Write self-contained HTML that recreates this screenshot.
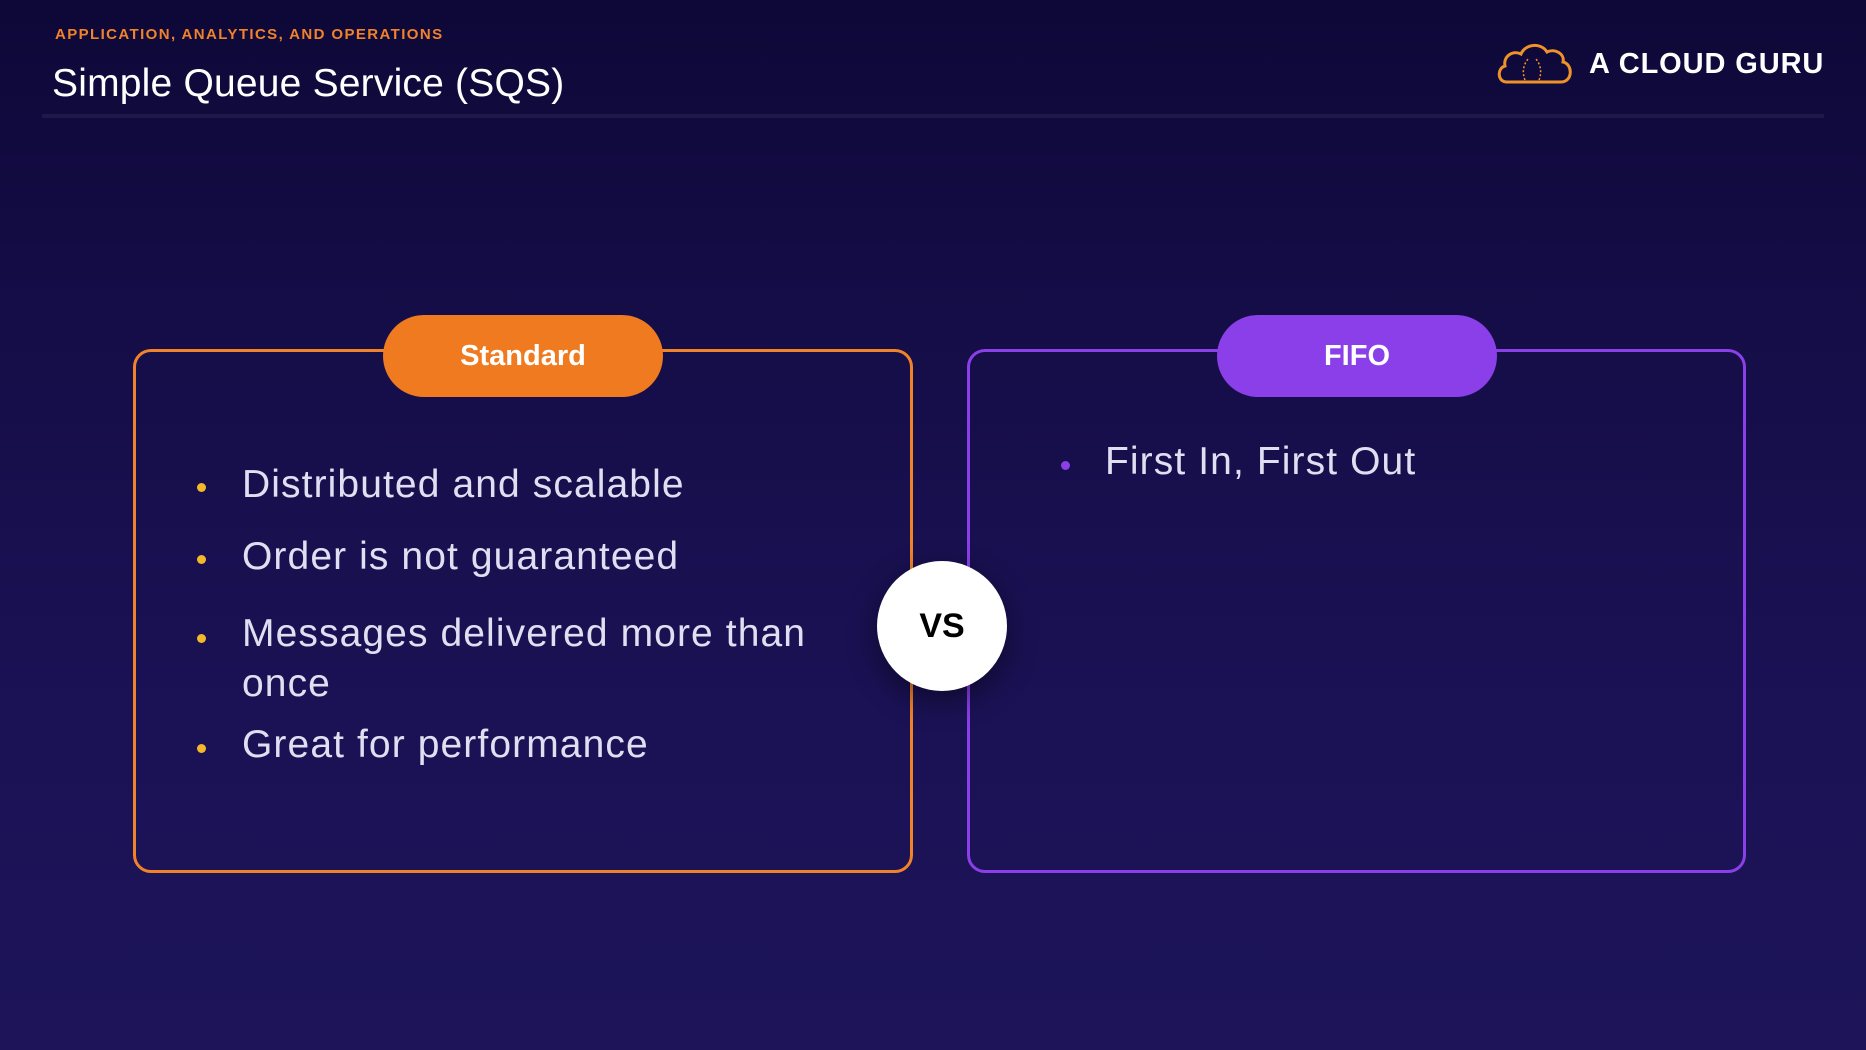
<!DOCTYPE html>
<html><head><meta charset="utf-8"><style>
*{margin:0;padding:0;box-sizing:border-box}
body{width:1866px;height:1050px;overflow:hidden;position:relative;font-family:"Liberation Sans",sans-serif;background:linear-gradient(180deg,#0e0838 0%,#150d47 30%,#1b1256 70%,#1d1459 100%)}
.a{position:absolute}
.sub{left:55px;top:26px;font-size:15px;font-weight:bold;color:#f0822a;letter-spacing:1.4px}
.title{left:52px;top:62px;font-size:39px;color:#fff;letter-spacing:0.2px}
.line{left:42px;top:114px;width:1782px;height:4px;background:#1f1849}
.logo{left:1589px;top:48px;font-size:29px;font-weight:bold;color:#fff;letter-spacing:0.9px}
.box{border-radius:18px;border:3px solid}
.pill{border-radius:41px;color:#fff;font-weight:bold;font-size:29px;text-align:center;line-height:82px}
.li{font-size:39px;color:#e2def2;left:242px;line-height:50px;letter-spacing:1.1px}
.dot{width:9px;height:9px;border-radius:50%;background:#f5b82a}
</style></head><body>
<div class="a sub">APPLICATION, ANALYTICS, AND OPERATIONS</div>
<div class="a title">Simple Queue Service (SQS)</div>
<div class="a line"></div>
<svg class="a" style="left:1495px;top:40px" width="80" height="46" viewBox="0 0 80 46">
<path d="M12 42 C2 42 2 28 10 26 C8 16 18 10 26 14 C30 4 46 2 52 12 C60 8 70 14 68 22 C78 24 78 42 66 42 Z" fill="none" stroke="#f0922a" stroke-width="3"/>
<path d="M30 40 C26 30 30 22 34 18 M44 40 C48 30 44 22 40 18" fill="none" stroke="#f0922a" stroke-width="1.5" stroke-dasharray="2 2"/>
</svg>
<div class="a logo">A CLOUD GURU</div>

<div class="a box" style="left:133px;top:349px;width:780px;height:524px;border-color:#f0822a"></div>
<div class="a pill" style="left:383px;top:315px;width:280px;height:82px;background:#ef7a1f">Standard</div>
<div class="a box" style="left:967px;top:349px;width:779px;height:524px;border-color:#8a3fe8"></div>
<div class="a pill" style="left:1217px;top:315px;width:280px;height:82px;background:#8a3fe8">FIFO</div>

<div class="a dot" style="left:197px;top:483px"></div>
<div class="a li" style="top:460px">Distributed and scalable</div>
<div class="a dot" style="left:197px;top:555px"></div>
<div class="a li" style="top:532px">Order is not guaranteed</div>
<div class="a dot" style="left:197px;top:634px"></div>
<div class="a li" style="top:609px">Messages delivered more than<br>once</div>
<div class="a dot" style="left:197px;top:744px"></div>
<div class="a li" style="top:720px">Great for performance</div>

<div class="a dot" style="left:1061px;top:461px;background:#8a3fe8"></div>
<div class="a li" style="left:1105px;top:437px">First In, First Out</div>

<div class="a" style="left:877px;top:561px;width:130px;height:130px;border-radius:50%;background:#fff;box-shadow:0 10px 30px rgba(0,0,0,0.45);text-align:center;line-height:130px;font-weight:bold;font-size:34px;color:#000">VS</div>
</body></html>
